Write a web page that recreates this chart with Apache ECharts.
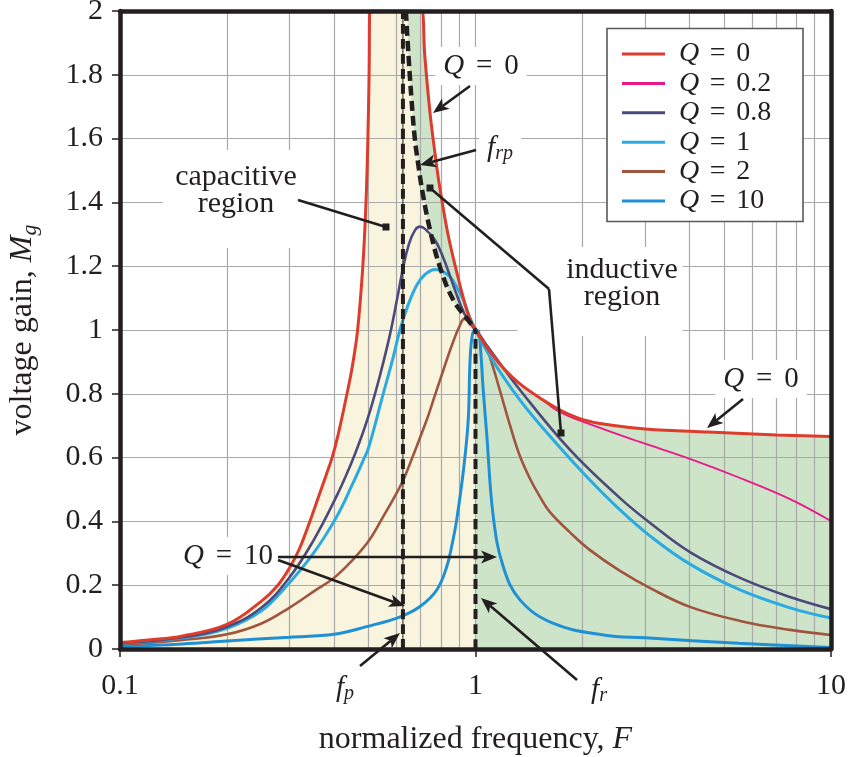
<!DOCTYPE html>
<html>
<head>
<meta charset="utf-8">
<script src="https://cdn.jsdelivr.net/npm/echarts@6/dist/echarts.min.js"></script>
<style>
html, body { margin: 0; padding: 0; background: #fff; }
#main { width: 848px; height: 757px; }
</style>
</head>
<body>
<div id="main"></div>
<script>
// normalized frequency F / voltage gain M
var fQ0 = [0.1, 0.12, 0.15, 0.2, 0.25, 0.278, 0.3, 0.32, 0.342, 0.36, 0.38, 0.395, 0.41, 0.435, 0.45, 0.466, 0.482, 0.492, 0.498, 0.502, 0.505, 0.52, 0.69, 0.706, 0.72, 0.745, 0.77, 0.79, 0.83, 0.86, 0.9, 0.93, 0.96, 1.0, 1.1, 1.21, 1.334, 1.518, 1.729, 2.006, 2.39, 3.0, 4.51, 7.03, 10];
var mQ0 = [0.02, 0.028, 0.041, 0.077, 0.15, 0.2, 0.255, 0.315, 0.4, 0.47, 0.545, 0.6, 0.668, 0.8, 0.884, 1.0, 1.2, 1.4, 1.6, 1.8, 2.0, 2.0, 2.0, 2.0, 1.86, 1.68, 1.55, 1.46, 1.32, 1.24, 1.15, 1.09, 1.04, 1.0, 0.931, 0.875, 0.831, 0.787, 0.749, 0.719, 0.702, 0.69, 0.68, 0.671, 0.666];

var fQ02 = [1.0, 1.1, 1.21, 1.334, 1.518, 1.729, 2.24, 2.9, 4.01, 5.55, 7.67, 10];
var mQ02 = [1.0, 0.931, 0.875, 0.831, 0.787, 0.742, 0.693, 0.649, 0.596, 0.536, 0.47, 0.401];

var fQ08 = [0.1, 0.15, 0.2, 0.25, 0.3, 0.35, 0.407, 0.444, 0.473, 0.505, 0.539, 0.575, 0.601, 0.627, 0.65, 0.676, 0.698, 0.721, 0.769, 0.81, 0.848, 0.899, 0.947, 1.0, 1.1, 1.334, 1.845, 2.55, 3.1, 4.01, 5.55, 7.67, 10];
var mQ08 = [0.018, 0.037, 0.07, 0.13, 0.225, 0.34, 0.48, 0.574, 0.652, 0.746, 0.859, 0.987, 1.094, 1.2, 1.27, 1.313, 1.324, 1.317, 1.282, 1.229, 1.169, 1.091, 1.034, 1.0, 0.937, 0.812, 0.624, 0.473, 0.395, 0.304, 0.223, 0.163, 0.125];

var fQ1 = [0.1, 0.15, 0.2, 0.25, 0.29, 0.35, 0.407, 0.45, 0.4835, 0.5, 0.55, 0.586, 0.613, 0.646, 0.684, 0.721, 0.77, 0.81, 0.848, 0.89, 0.925, 0.96, 1.0, 1.1, 1.334, 1.655, 2.055, 2.55, 3.1, 4.01, 5.55, 7.67, 10];
var mQ1 = [0.017, 0.035, 0.065, 0.12, 0.19, 0.3, 0.415, 0.515, 0.592, 0.63, 0.8, 0.912, 1.0, 1.078, 1.141, 1.174, 1.19, 1.183, 1.167, 1.13, 1.094, 1.045, 1.0, 0.916, 0.78, 0.655, 0.54, 0.436, 0.354, 0.266, 0.185, 0.129, 0.097];

var fQ2 = [0.1, 0.15, 0.2, 0.25, 0.3, 0.35, 0.407, 0.494, 0.55, 0.614, 0.643, 0.729, 0.761, 0.83, 0.87, 0.9, 0.93, 0.96, 1.0, 1.05, 1.1, 1.17, 1.25, 1.33, 1.42, 1.52, 1.62, 1.85, 2.1, 2.55, 3.1, 4.01, 5.55, 7.67, 10];
var mQ2 = [0.012, 0.028, 0.046, 0.08, 0.13, 0.18, 0.23, 0.33, 0.415, 0.51, 0.56, 0.718, 0.78, 0.906, 0.97, 1.01, 1.035, 1.025, 1.0, 0.969, 0.912, 0.812, 0.702, 0.608, 0.536, 0.476, 0.429, 0.364, 0.31, 0.245, 0.191, 0.132, 0.088, 0.06, 0.044];

var fQ10 = [0.1, 0.15, 0.2, 0.3, 0.4, 0.494, 0.614, 0.698, 0.778, 0.83, 0.86, 0.885, 0.925, 0.954, 0.965, 0.98, 1.0, 1.02, 1.035, 1.05, 1.075, 1.122, 1.197, 1.334, 1.65, 2.29, 3.0, 5.5, 10];
var mQ10 = [0.008, 0.016, 0.025, 0.037, 0.046, 0.07, 0.101, 0.133, 0.185, 0.258, 0.33, 0.404, 0.561, 0.718, 0.9, 0.985, 1.0, 0.995, 0.93, 0.82, 0.676, 0.415, 0.258, 0.154, 0.081, 0.044, 0.035, 0.018, 0.005];

// f_rp boundary (dashed) between capacitive and inductive regions
var fFrp = [0.637, 0.648, 0.661, 0.675, 0.69, 0.71, 0.745, 0.794, 0.866, 0.954, 1.0];
var mFrp = [2.0, 1.86, 1.72, 1.6, 1.52, 1.43, 1.313, 1.198, 1.094, 1.031, 1.0];

var fp = 0.625;
var fr = 1.0;
var gridX = [0.2, 0.3, 0.4, 0.5, 0.6, 0.7, 0.8, 0.9, 1, 2, 3, 4, 5, 6, 7, 8, 9];
var gridY = [0.2, 0.4, 0.6, 0.8, 1.0, 1.2, 1.4, 1.6, 1.8];

var FONT = 'Liberation Serif';
var INK = '#231f20';

function pts(f, m) {
	return f.map(function(v, i) { return [v, m[i]]; });
}

var redPts = pts(fQ0, mQ0);
var frpPts = pts(fFrp, mFrp);
var yellowPts = redPts.filter(function(p) { return p[0] < fFrp[0]; }).concat(frpPts);
var greenPts = [frpPts[0]].concat(redPts.filter(function(p) { return p[0] > fFrp[0]; }));

function curve(name, f, m, color, width) {
	return {
		name: name, type: 'line', data: pts(f, m), smooth: 0.4,
		symbol: 'none', showSymbol: false, silent: true, z: 3,
		lineStyle: { color: color, width: width },
		itemStyle: { color: color }
	};
}

function area(data, color) {
	return {
		type: 'line', data: data, smooth: 0.4, symbol: 'none', silent: true, z: 1,
		lineStyle: { width: 0, opacity: 0 },
		areaStyle: { color: color, opacity: 1 }
	};
}

function dashed(data, width, dash) {
	return {
		type: 'line', data: data, smooth: 0.4, symbol: 'none', silent: true, z: 4,
		lineStyle: { color: INK, width: width, type: dash }
	};
}

// annotation helpers (pixel positions on the page)
function arrow(x1, y1, x2, y2) {
	var a = Math.atan2(y2 - y1, x2 - x1), L = 16, W = 6.5;
	var c = Math.cos(a), s = Math.sin(a);
	var bx = x2 - L * c, by = y2 - L * s;
	var nx = x2 - (L - 4) * c, ny = y2 - (L - 4) * s;
	return [{
		type: 'line', z: 60, silent: true,
		shape: { x1: x1, y1: y1, x2: nx, y2: ny },
		style: { stroke: INK, lineWidth: 2.6 }
	}, {
		type: 'polygon', z: 60, silent: true,
		shape: { points: [[x2, y2], [bx + W * s, by - W * c], [nx, ny], [bx - W * s, by + W * c]] },
		style: { fill: INK }
	}];
}

function pin(x1, y1, x2, y2) {
	return [{
		type: 'line', z: 60, silent: true,
		shape: { x1: x1, y1: y1, x2: x2, y2: y2 },
		style: { stroke: INK, lineWidth: 2.6 }
	}, {
		type: 'rect', z: 60, silent: true,
		shape: { x: x2 - 3.5, y: y2 - 3.5, width: 7, height: 7 },
		style: { fill: INK }
	}];
}

// white patch behind a label (hides the grid there)
function patch(x, y, w, h) {
	return { type: 'rect', z: 49, silent: true, shape: { x: x, y: y, width: w, height: h }, style: { fill: '#fff' } };
}

var RICH = {
	i: { fontFamily: FONT, fontStyle: 'italic', fontSize: 29, lineHeight: 32, fill: INK },
	e: { fontFamily: FONT, fontSize: 29, lineHeight: 32, width: 40, align: 'center', fill: INK },
	n: { fontFamily: FONT, fontSize: 29, lineHeight: 32, fill: INK },
	sub: { fontFamily: FONT, fontStyle: 'italic', fontSize: 20, lineHeight: 20, verticalAlign: 'bottom', fill: INK }
};

function label(x, y, text, bg, size, lh) {
	return {
		type: 'text', x: x, y: y, z: 50, silent: true,
		style: {
			text: text, fontFamily: FONT, fontSize: size || 27, lineHeight: lh || 32, fill: INK,
			align: 'center', verticalAlign: 'middle', rich: RICH,
			backgroundColor: bg ? '#fff' : null, padding: bg ? [3, 8] : 0
		}
	};
}

var graphics = [{
	type: 'rect', z: 45, silent: true,
	shape: { x: 607, y: 28.5, width: 196, height: 193 },
	style: { fill: '#fff', stroke: '#58595b', lineWidth: 1.6 }
}];
graphics.push(patch(163, 150, 140, 98));
graphics.push(patch(517, 247, 166, 89));
graphics.push(label(481, 66, '{i|Q}{e|=}{n|0}', true));
graphics.push(label(500, 148, '{i|f}{sub|rp}', true));
graphics.push(label(236, 191, 'capacitive\nregion', false, 30, 27));
graphics.push(label(622, 284, 'inductive\nregion', false, 30, 27));
graphics.push(label(761, 379, '{i|Q}{e|=}{n|0}', true));
graphics.push(label(228, 556, '{i|Q}{e|=}{n|10}', true));
graphics.push(label(345, 688, '{i|f}{sub|p}', false));
graphics.push(label(599, 690, '{i|f}{sub|r}', false));
graphics = graphics
	.concat(arrow(470, 86, 433, 113))
	.concat(arrow(476, 150, 420, 165))
	.concat(pin(298, 200, 386, 227))
	.concat(pin(549, 289, 430, 188))
	.concat(pin(549, 289, 561, 433))
	.concat(arrow(743, 399, 707, 428))
	.concat(arrow(278, 557, 497, 557))
	.concat(arrow(278, 560, 405, 606))
	.concat(arrow(360, 666, 400, 633))
	.concat(arrow(577, 680, 481, 598));

var axisLine = { show: true, onZero: false, lineStyle: { color: INK, width: 4.5 } };

var option = {
	animation: false,
	backgroundColor: '#fff',
	grid: { left: 120, right: 17, top: 11, bottom: 108, outerBoundsMode: 'none' },
	legend: {
		data: ['Q = 0', 'Q = 0.2', 'Q = 0.8', 'Q = 1', 'Q = 2', 'Q = 10'],
		orient: 'vertical', left: 622, top: 40, padding: 0, z: 48,
		itemWidth: 43, itemHeight: 3, itemGap: 1.4, icon: 'rect',
		selectedMode: false,
		formatter: function(n) { return '{s| }{q|Q}{e|=}' + n.split('= ')[1]; },
		textStyle: {
			color: INK, fontFamily: FONT, fontSize: 28, lineHeight: 24,
			rich: {
				s: { width: 9, lineHeight: 24 },
				q: { fontFamily: FONT, fontStyle: 'italic', fontSize: 28, lineHeight: 24, color: INK },
				e: { fontFamily: FONT, fontSize: 28, lineHeight: 24, width: 37, align: 'center', color: INK }
			}
		}
	},
	xAxis: [{
		type: 'log', logBase: 10, min: 0.1, max: 10, z: 6,
		axisLine: axisLine,
		axisTick: { show: true, length: 8, lineStyle: { color: INK, width: 1.5 } },
		axisLabel: {
			color: INK, fontFamily: FONT, fontSize: 30, margin: 22,
			formatter: function(v) { return String(+v.toPrecision(3)); }
		},
		splitLine: { show: false },
		minorTick: { show: false },
		name: 'normalized frequency, {i|F}', nameLocation: 'middle', nameGap: 75,
		nameTextStyle: { color: INK, fontFamily: FONT, fontSize: 32, rich: { i: { fontFamily: FONT, fontStyle: 'italic', fontSize: 32, color: INK } } }
	}, {
		type: 'log', logBase: 10, min: 0.1, max: 10, position: 'top', z: 6,
		axisLine: axisLine, axisTick: { show: false }, axisLabel: { show: false }, splitLine: { show: false }
	}],
	yAxis: [{
		type: 'value', min: 0, max: 2, interval: 0.2, z: 6,
		axisLine: axisLine,
		axisTick: { show: true, length: 8, lineStyle: { color: INK, width: 1.5 } },
		axisLabel: { color: INK, fontFamily: FONT, fontSize: 30, margin: 17 },
		splitLine: { show: false },
		name: 'voltage gain, {i|M}{sub|g}', nameLocation: 'middle', nameGap: 79, nameRotate: 90,
		nameTextStyle: {
			color: INK, fontFamily: FONT, fontSize: 32, lineHeight: 36,
			rich: {
				i: { fontFamily: FONT, fontStyle: 'italic', fontSize: 32, lineHeight: 36, color: INK },
				sub: { fontFamily: FONT, fontStyle: 'italic', fontSize: 22, lineHeight: 22, verticalAlign: 'bottom', color: INK }
			}
		}
	}, {
		type: 'value', min: 0, max: 2, position: 'right', z: 6,
		axisLine: axisLine, axisTick: { show: false }, axisLabel: { show: false }, splitLine: { show: false }
	}],
	series: [
		area(greenPts, '#cde4c9'),
		area(yellowPts, '#f8f4de'),
		{
			type: 'line', data: [], silent: true, z: 2,
			markLine: {
				silent: true, z: 2, symbol: 'none', animation: false,
				label: { show: false },
				lineStyle: { color: '#a9a9a9', width: 1.2, type: 'solid' },
				emphasis: { disabled: true },
				data: gridX.map(function(v) { return { xAxis: v }; })
					.concat(gridY.map(function(v) { return { yAxis: v }; }))
			}
		},
		curve('Q = 10', fQ10, mQ10, '#1f90d5', 3),
		curve('Q = 2', fQ2, mQ2, '#a0553f', 2.6),
		curve('Q = 1', fQ1, mQ1, '#2aaae2', 3),
		curve('Q = 0.8', fQ08, mQ08, '#4c4a7c', 2.6),
		curve('Q = 0.2', fQ02, mQ02, '#e8198b', 1.8),
		curve('Q = 0', fQ0, mQ0, '#dd3b2c', 3),
		{
			type: 'line', data: [[fp, 0], [fp, 2]], symbol: 'none', silent: true, z: 4,
			lineStyle: { color: INK, width: 1 }
		},
		dashed([[fp, 0], [fp, 2]], 4, [10, 5]),
		dashed([[fr, 0], [fr, 1]], 4, [10, 5]),
		dashed(frpPts, 4.5, [10, 5])
	],
	graphic: { elements: graphics }
};

var chart = echarts.init(document.getElementById('main'));
chart.setOption(option);
</script>
</body>
</html>
